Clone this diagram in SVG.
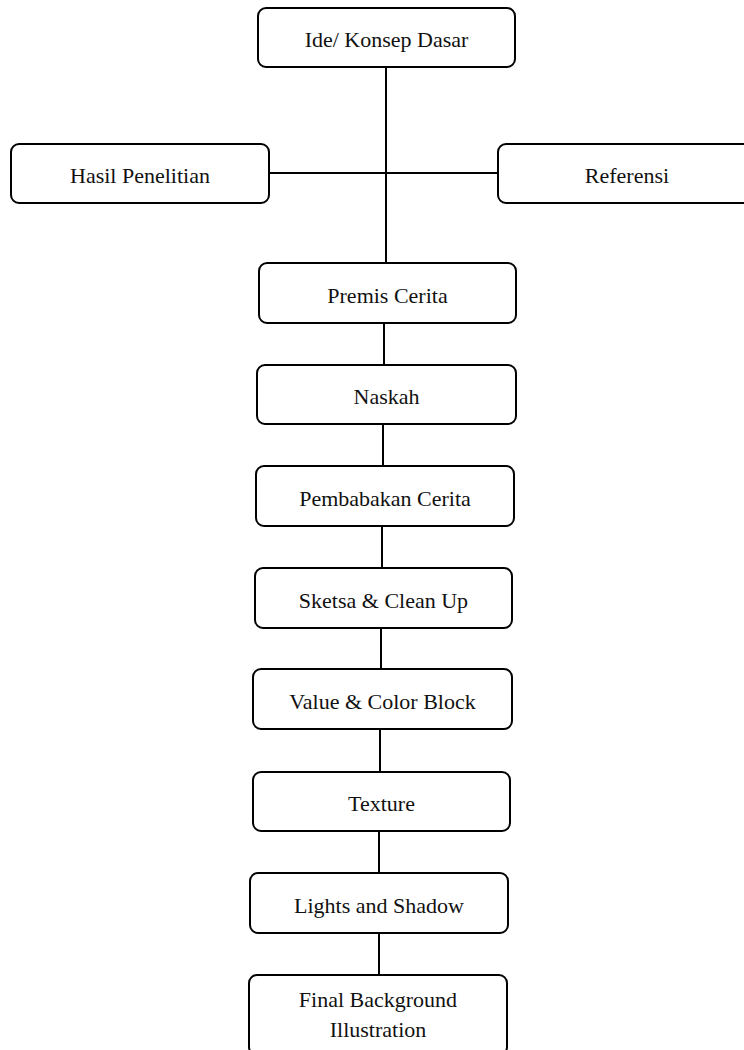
<svg xmlns="http://www.w3.org/2000/svg" width="744" height="1050" viewBox="0 0 744 1050">
<style>
.box{fill:#fff;stroke:#000;stroke-width:2}
.lbl{font-family:"Liberation Serif","Times New Roman",serif;font-size:22px;fill:#111;text-anchor:middle}
.con line{stroke:#000;stroke-width:2}
</style>
<rect width="744" height="1050" fill="#fff"/>
<g class="con" id="connectors">
<line x1="386" y1="67" x2="386" y2="263"/>
<line x1="269" y1="173" x2="498" y2="173"/>
<line x1="384" y1="323" x2="384" y2="365"/>
<line x1="383" y1="424" x2="383" y2="466"/>
<line x1="382" y1="526" x2="382" y2="568"/>
<line x1="381" y1="628" x2="381" y2="669"/>
<line x1="380" y1="729" x2="380" y2="772"/>
<line x1="379" y1="831" x2="379" y2="873"/>
<line x1="379" y1="933" x2="379" y2="975"/>
</g>
<g id="ide"><rect class="box" x="258" y="8" width="257" height="59" rx="8"/><text class="lbl" x="386.5" y="47">Ide/ Konsep Dasar</text></g>
<g id="hasil"><rect class="box" x="11" y="144" width="258" height="59" rx="8"/><text class="lbl" x="140" y="183">Hasil Penelitian</text></g>
<g id="referensi"><rect class="box" x="498" y="144" width="258" height="59" rx="8"/><text class="lbl" x="627" y="183">Referensi</text></g>
<g id="premis"><rect class="box" x="259" y="263" width="257" height="60" rx="8"/><text class="lbl" x="387.5" y="303">Premis Cerita</text></g>
<g id="naskah"><rect class="box" x="257" y="365" width="259" height="59" rx="8"/><text class="lbl" x="386.5" y="404">Naskah</text></g>
<g id="pembabakan"><rect class="box" x="256" y="466" width="258" height="60" rx="8"/><text class="lbl" x="385" y="506">Pembabakan Cerita</text></g>
<g id="sketsa"><rect class="box" x="255" y="568" width="257" height="60" rx="8"/><text class="lbl" x="383.5" y="608">Sketsa &amp; Clean Up</text></g>
<g id="value"><rect class="box" x="253" y="669" width="259" height="60" rx="8"/><text class="lbl" x="382.5" y="709">Value &amp; Color Block</text></g>
<g id="texture"><rect class="box" x="253" y="772" width="257" height="59" rx="8"/><text class="lbl" x="381.5" y="811">Texture</text></g>
<g id="lights"><rect class="box" x="250" y="873" width="258" height="60" rx="8"/><text class="lbl" x="379" y="913">Lights and Shadow</text></g>
<g id="final"><rect class="box" x="249" y="975" width="258" height="80" rx="8"/><text class="lbl" x="378" y="1007">Final Background</text><text class="lbl" x="378" y="1037">Illustration</text></g>
</svg>
